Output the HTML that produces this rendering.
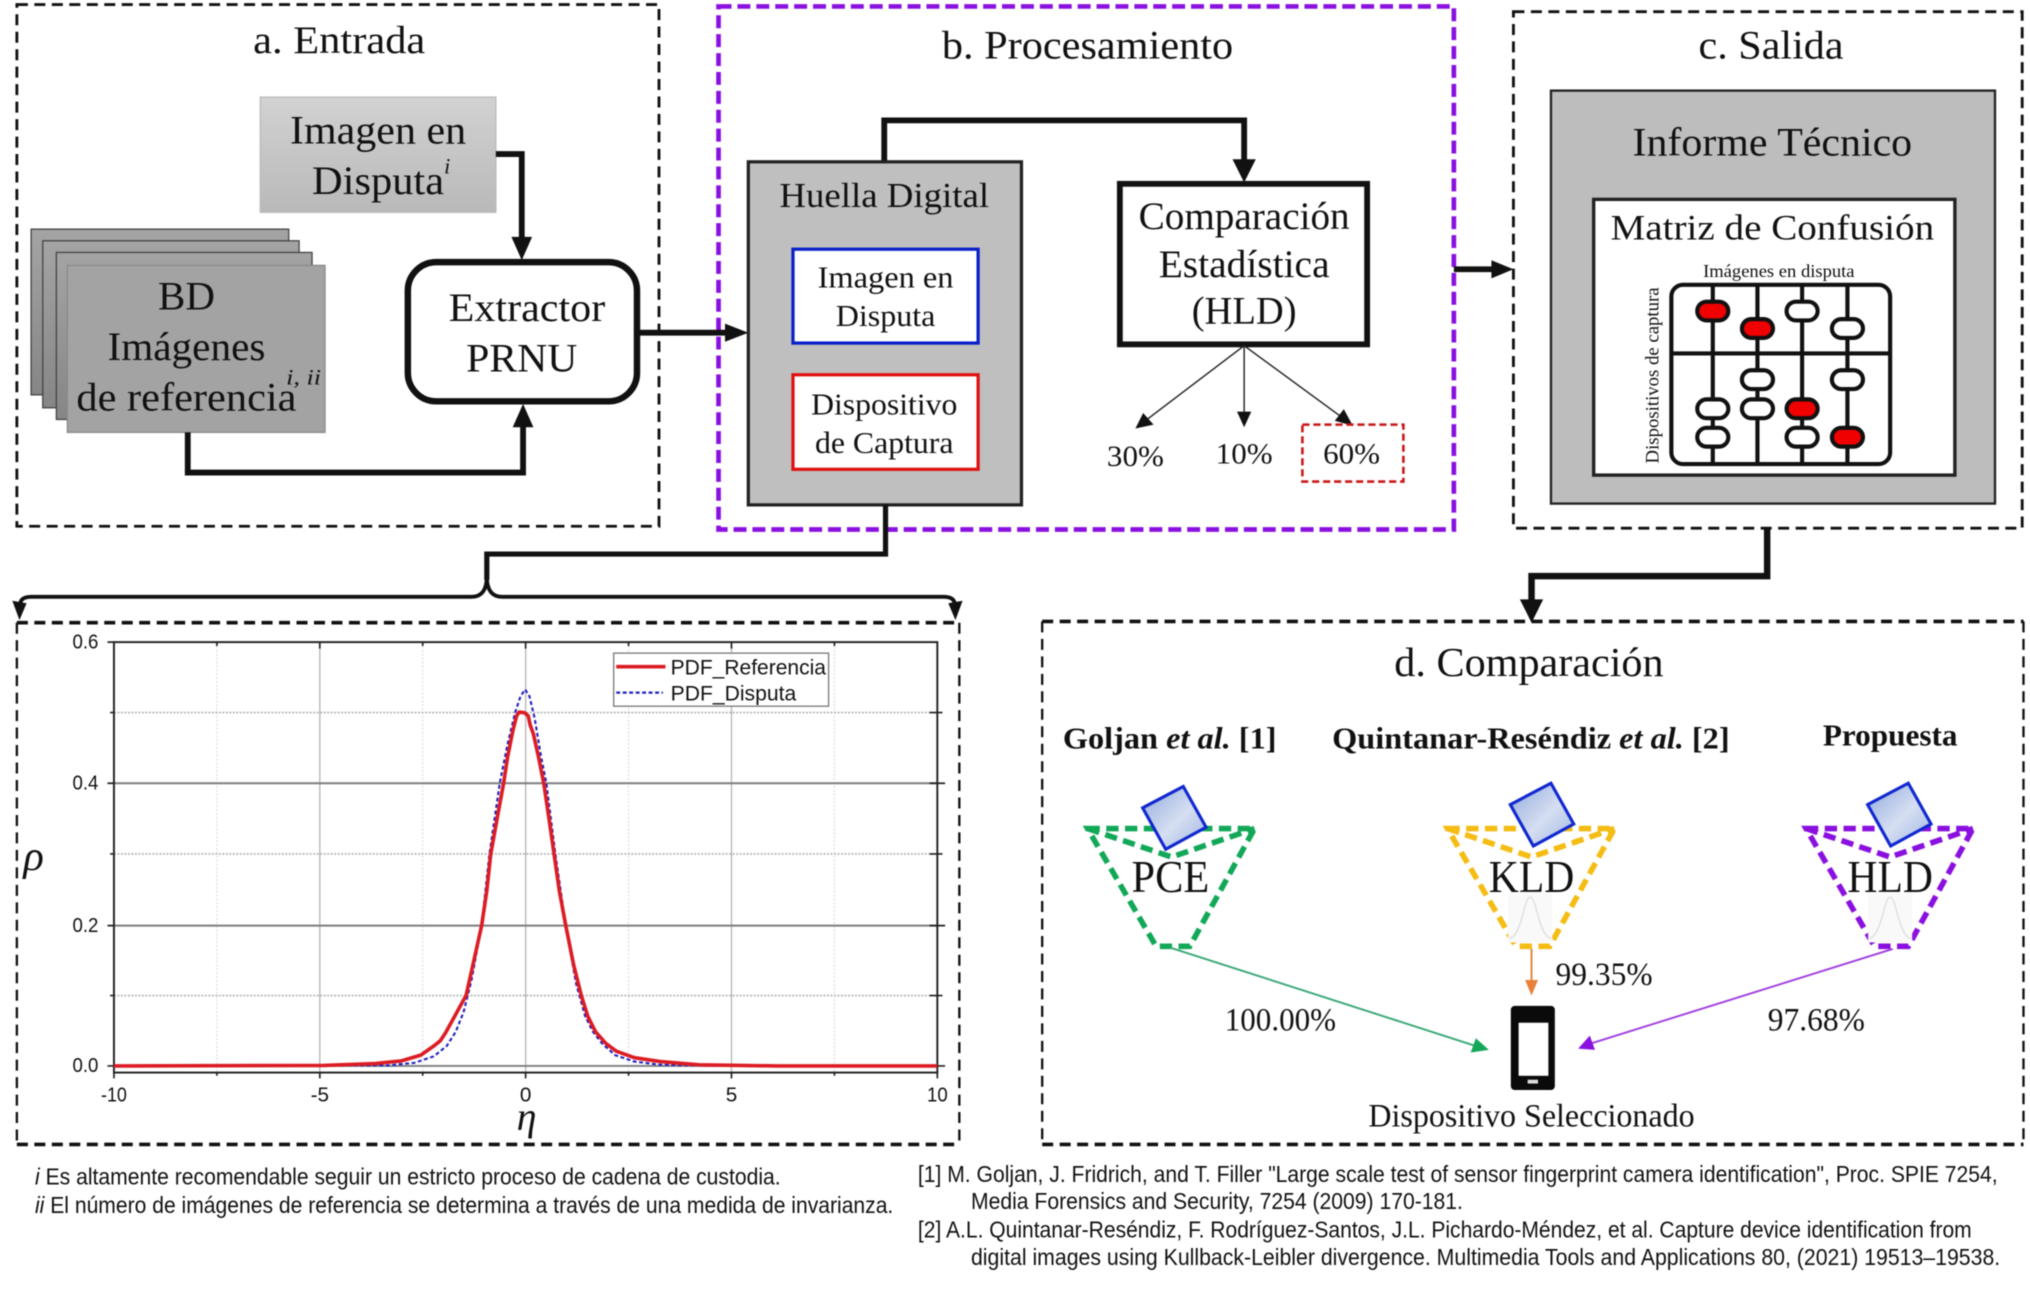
<!DOCTYPE html>
<html><head><meta charset="utf-8"><style>
html,body{margin:0;padding:0;background:#fff;width:2030px;height:1292px;overflow:hidden}
svg{display:block;filter:blur(.4px)}
text{font-family:"Liberation Serif",serif;fill:#111}
.s{font-family:"Liberation Sans",sans-serif}
.m{text-anchor:middle}
</style></head><body>
<svg width="2030" height="1292" viewBox="0 0 1568 998" xmlns="http://www.w3.org/2000/svg">
<defs>
<linearGradient id="g1" x1="0" y1="0" x2="0" y2="1"><stop offset="0" stop-color="#d2d2d2"/><stop offset="1" stop-color="#b9b9b9"/></linearGradient>
<linearGradient id="g2" x1="0" y1="0" x2="0" y2="1"><stop offset="0" stop-color="#a4a4a4"/><stop offset="1" stop-color="#868686"/></linearGradient>
<linearGradient id="g3" x1="0" y1="0" x2="1" y2="1"><stop offset="0" stop-color="#8fa8dc"/><stop offset=".55" stop-color="#d6dff2"/><stop offset="1" stop-color="#9db3e0"/></linearGradient>
</defs>
<rect width="1568" height="998" fill="#fff"/>

<!-- Panel outlines -->
<g fill="none" stroke="#111" stroke-width="2.200" stroke-dasharray="8.500 5">
<rect x="13" y="3.500" width="496" height="403"/>
<rect x="1169" y="9" width="393" height="399"/>
</g>
<g fill="none" stroke="#111" stroke-dasharray="8.500 5">
<path d="M805 480H1563M805 884H1563M13 481H741M13 884H741" stroke-width="2.800"/>
<path d="M805 480V884M1563 480V884M13 481V884M741 481V884" stroke-width="1.800"/>
</g>
<rect x="555" y="5" width="568" height="404" fill="none" stroke="#8a10e0" stroke-width="3.600" stroke-dasharray="10 4.600"/>

<!-- a. Entrada -->
<text x="262" y="41" class="m" font-size="30" textLength="133" lengthAdjust="spacingAndGlyphs">a. Entrada</text>
<rect x="201" y="75" width="182" height="89" fill="url(#g1)" stroke="#bbb"/>
<text x="292" y="111" class="m" font-size="31" textLength="136" lengthAdjust="spacingAndGlyphs">Imagen en</text>
<text x="241" y="150" font-size="31" textLength="102" lengthAdjust="spacingAndGlyphs">Disputa</text>
<text x="343" y="134" font-size="17" font-style="italic">i</text>
<rect x="24" y="177" width="199" height="128" fill="url(#g2)" stroke="#444" stroke-width="1"/>
<rect x="33" y="186" width="198" height="129" fill="url(#g2)" stroke="#444" stroke-width="1"/>
<rect x="43.500" y="195" width="197.500" height="129" fill="url(#g2)" stroke="#444" stroke-width="1"/>
<rect x="52" y="205" width="199" height="129" fill="#a3a3a3" stroke="#8a8a8a" stroke-width="1"/>
<text x="144" y="239" class="m" font-size="31" textLength="44" lengthAdjust="spacingAndGlyphs">BD</text>
<text x="144" y="278" class="m" font-size="31" textLength="122" lengthAdjust="spacingAndGlyphs">Imágenes</text>
<text x="144" y="317" class="m" font-size="31" textLength="170" lengthAdjust="spacingAndGlyphs">de referencia</text>
<text x="221" y="297" font-size="17" font-style="italic" textLength="27" lengthAdjust="spacingAndGlyphs">i, ii</text>
<rect x="315" y="202.500" width="177" height="107.500" rx="22" fill="#fff" stroke="#111" stroke-width="5"/>
<text x="407" y="248" class="m" font-size="31" textLength="121" lengthAdjust="spacingAndGlyphs">Extractor</text>
<text x="403" y="287" class="m" font-size="31" textLength="86" lengthAdjust="spacingAndGlyphs">PRNU</text>
<g fill="none" stroke="#111" stroke-width="4.500">
<path d="M383 119H403V186"/>
<path d="M145 334V365H404V326"/>
<path d="M494 257H566"/>
</g>
<g fill="#111">
<polygon points="395,183 411,183 403,201"/>
<polygon points="396,330 412,330 404,312"/>
<polygon points="560,250 560,264 578,257"/>
</g>

<!-- b. Procesamiento -->
<text x="840" y="45" class="m" font-size="31" textLength="225" lengthAdjust="spacingAndGlyphs">b. Procesamiento</text>
<path d="M683 125V93H961V125" fill="none" stroke="#111" stroke-width="4.500"/>
<polygon points="952,123 970,123 961,141" fill="#111"/>
<rect x="578" y="125" width="211" height="265" fill="#bfbfbf" stroke="#222" stroke-width="2.500"/>
<text x="683" y="160" class="m" font-size="27" textLength="162" lengthAdjust="spacingAndGlyphs">Huella Digital</text>
<rect x="612.500" y="192.500" width="143" height="72.500" fill="#fff" stroke="#0a20c8" stroke-width="2.500"/>
<text x="684" y="222" class="m" font-size="24" textLength="105" lengthAdjust="spacingAndGlyphs">Imagen en</text>
<text x="684" y="252" class="m" font-size="24" textLength="77" lengthAdjust="spacingAndGlyphs">Disputa</text>
<rect x="612.500" y="289.500" width="143" height="73" fill="#fff" stroke="#e01010" stroke-width="2.500"/>
<text x="683" y="320" class="m" font-size="24" textLength="113" lengthAdjust="spacingAndGlyphs">Dispositivo</text>
<text x="683" y="350" class="m" font-size="24" textLength="107" lengthAdjust="spacingAndGlyphs">de Captura</text>
<rect x="865" y="142" width="191" height="124" fill="#fff" stroke="#111" stroke-width="4.500"/>
<text x="961" y="177" class="m" font-size="30" textLength="163" lengthAdjust="spacingAndGlyphs">Comparación</text>
<text x="961" y="214" class="m" font-size="30" textLength="132" lengthAdjust="spacingAndGlyphs">Estadística</text>
<text x="961" y="250" class="m" font-size="30" textLength="81" lengthAdjust="spacingAndGlyphs">(HLD)</text>
<g stroke="#222" stroke-width="1.100" fill="none">
<path d="M961 267L886 324"/><path d="M961 267V320"/><path d="M961 267L1036 322"/>
</g>
<g fill="#111">
<polygon points="877,331 883,319 891,328"/>
<polygon points="955.500,318 966.500,318 961,330"/>
<polygon points="1045,329 1031,325 1038,316"/>
</g>
<rect x="1006" y="328" width="78" height="44" fill="none" stroke="#c81818" stroke-width="2" stroke-dasharray="5.500 3"/>
<text x="877" y="360" class="m" font-size="23" textLength="44" lengthAdjust="spacingAndGlyphs">30%</text>
<text x="961" y="358" class="m" font-size="23" textLength="44" lengthAdjust="spacingAndGlyphs">10%</text>
<text x="1044" y="358" class="m" font-size="23" textLength="44" lengthAdjust="spacingAndGlyphs">60%</text>
<path d="M1123 208H1156" stroke="#111" stroke-width="4.500"/>
<polygon points="1152,201 1152,215 1169,208" fill="#111"/>

<!-- c. Salida -->
<text x="1368" y="45" class="m" font-size="31" textLength="112" lengthAdjust="spacingAndGlyphs">c. Salida</text>
<rect x="1198" y="70" width="343" height="319" fill="#bdbdbd" stroke="#222" stroke-width="1.800"/>
<text x="1369" y="120" class="m" font-size="31" textLength="216" lengthAdjust="spacingAndGlyphs">Informe Técnico</text>
<rect x="1231" y="154" width="279" height="213" fill="#fff" stroke="#222" stroke-width="2.600"/>
<text x="1369" y="185" class="m" font-size="28" textLength="250" lengthAdjust="spacingAndGlyphs">Matriz de Confusión</text>
<text x="1374" y="214" class="m" font-size="13.500" textLength="117" lengthAdjust="spacingAndGlyphs">Imágenes en disputa</text>
<text transform="translate(1281,290) rotate(-90)" class="m" font-size="14.500" fill="#333" textLength="136" lengthAdjust="spacingAndGlyphs">Dispositivos de captura</text>
<g fill="none" stroke="#111" stroke-width="3.200">
<rect x="1291" y="220" width="169" height="138.500" rx="9"/>
<path d="M1291 273H1460M1323 220V358M1357.500 220V358M1392 220V358M1427 220V358"/>
</g>
<g stroke="#111" stroke-width="3.200">
<rect x="1311" y="233" width="24" height="14.500" rx="7.250" fill="#f00000"/>
<rect x="1311" y="308.500" width="24" height="14.500" rx="7.250" fill="#fff"/>
<rect x="1311" y="330.500" width="24" height="14.500" rx="7.250" fill="#fff"/>
<rect x="1345.500" y="246.500" width="24" height="14.500" rx="7.250" fill="#f00000"/>
<rect x="1345.500" y="286" width="24" height="14.500" rx="7.250" fill="#fff"/>
<rect x="1345.500" y="308.500" width="24" height="14.500" rx="7.250" fill="#fff"/>
<rect x="1380" y="233" width="24" height="14.500" rx="7.250" fill="#fff"/>
<rect x="1380" y="308.500" width="24" height="14.500" rx="7.250" fill="#f00000"/>
<rect x="1380" y="330.500" width="24" height="14.500" rx="7.250" fill="#fff"/>
<rect x="1415" y="246.500" width="24" height="14.500" rx="7.250" fill="#fff"/>
<rect x="1415" y="286" width="24" height="14.500" rx="7.250" fill="#fff"/>
<rect x="1415" y="330.500" width="24" height="14.500" rx="7.250" fill="#f00000"/>
</g>
<path d="M1365 409V445H1183V466" fill="none" stroke="#111" stroke-width="5"/>
<polygon points="1174,463 1192,463 1183,481" fill="#111"/>

<!-- Bracket -->
<path d="M684 390V428H376V448" fill="none" stroke="#111" stroke-width="4"/>
<path d="M376 445C376 456 372 461 364 461H24C17 461 15 464 15 470M376 445C376 456 380 461 388 461H729C736 461 738 464 738 470" fill="none" stroke="#111" stroke-width="3"/>
<polygon points="9.500,464 20.500,466 15,479" fill="#111"/>
<polygon points="732.500,466 743.500,464 738,479" fill="#111"/>

<!-- Plot -->
<g stroke="#d8d8d8" stroke-width=".8" stroke-dasharray="1.500 1.500">
<path d="M167.500 496V828M326.500 496V828M485.500 496V828M644.500 496V828"/>
</g>
<g stroke="#b4b4b4" stroke-width="1">
<path d="M247 496V828M406 496V828M565 496V828"/>
</g>
<g stroke="#b0b0b0" stroke-width="1.200" stroke-dasharray="1.500 1.200">
<path d="M88 550.400H724M88 659.600H724M88 769H724"/>
</g>
<g stroke="#7d7d7d" stroke-width="1.500">
<path d="M88 605H724M88 715H724M88 823.400H724"/>
</g>
<rect x="88" y="496" width="636" height="332.500" fill="none" stroke="#222" stroke-width="1.500"/>
<g stroke="#222" stroke-width="1.300">
<path d="M88 828V833M247 828V833M406 828V833M565 828V833M724 828V833M247 496V501M406 496V501M565 496V501M167.500 828V831M326.500 828V831M485.500 828V831M644.500 828V831M167.500 496V499M326.500 496V499M485.500 496V499M644.500 496V499"/>
<path d="M718 550.400H728M718 605H730M718 659.600H728M718 715H730M718 769H728M718 823.400H730M83 605H88M83 715H88M83 823.400H88M83 496H88M85 550.400H88M85 659.600H88M85 769H88"/>
</g>
<g font-size="16">
<text class="s" x="56" y="501" font-size="16" textLength="20" lengthAdjust="spacingAndGlyphs">0.6</text>
<text class="s" x="56" y="610" font-size="16" textLength="20" lengthAdjust="spacingAndGlyphs">0.4</text>
<text class="s" x="56" y="720" font-size="16" textLength="20" lengthAdjust="spacingAndGlyphs">0.2</text>
<text class="s" x="56" y="828" font-size="16" textLength="20" lengthAdjust="spacingAndGlyphs">0.0</text>
<text class="s m" x="88" y="851" font-size="16" textLength="20" lengthAdjust="spacingAndGlyphs">-10</text>
<text class="s m" x="247" y="851" font-size="16">-5</text>
<text class="s m" x="406" y="851" font-size="16">0</text>
<text class="s m" x="565" y="851" font-size="16">5</text>
<text class="s m" x="724" y="851" font-size="16" textLength="16" lengthAdjust="spacingAndGlyphs">10</text>
</g>
<polyline fill="none" stroke="#2020c0" stroke-width="1.600" stroke-dasharray="3 2" points="88,823.400 300,823 320,821 335,816 345,808 352,797 358,782 364,758 372,715 378,660 386,605 392,575 398,550 402,538 405.600,532.500 409,538 413,555 418,585 422,605 429,660 437,715 445,760 452,785 458,797 465,806 475,815 490,820 510,822.500 560,823.400 724,823.400"/>
<polyline fill="none" stroke="#dc1c24" stroke-width="2.800" stroke-linejoin="round" points="88,823.400 250,823 290,821.500 310,819.500 325,815 335,808 340,804 344,798 349,789 355,778 360,769 366,742 372,715 376,688 379,660 384,632 389,605 392,585 396,565 399,553 401,550 405,550.500 408,553 409.500,560 412,567 416,585 420,605 424,632 428,660 432,688 437,715 443,745 449,769 454,785 460,797 468,806 476,812 490,817 510,820 540,822.500 600,823.400 724,823.400"/>
<rect x="474" y="504.500" width="166" height="41" fill="#fff" stroke="#777" stroke-width="1"/>
<path d="M476 515H514" stroke="#dc1c24" stroke-width="2.800"/>
<path d="M476 535H512" stroke="#2020c0" stroke-width="1.800" stroke-dasharray="3 2"/>
<text class="s" x="518" y="521" font-size="16.500" textLength="120" lengthAdjust="spacingAndGlyphs">PDF_Referencia</text>
<text class="s" x="518" y="541" font-size="16.500" textLength="97" lengthAdjust="spacingAndGlyphs">PDF_Disputa</text>
<text x="18" y="672" font-size="33" font-style="italic">ρ</text>
<text x="399" y="873" font-size="31" font-style="italic">η</text>

<!-- d. Comparación -->
<text x="1181" y="522" class="m" font-size="32" textLength="208" lengthAdjust="spacingAndGlyphs">d. Comparación</text>
<text x="821" y="578" font-size="24" font-weight="bold" textLength="165" lengthAdjust="spacingAndGlyphs">Goljan <tspan font-style="italic">et al.</tspan> [1]</text>
<text x="1029" y="578" font-size="24" font-weight="bold" textLength="307" lengthAdjust="spacingAndGlyphs">Quintanar-Reséndiz <tspan font-style="italic">et al.</tspan> [2]</text>
<text x="1408" y="576" font-size="24" font-weight="bold" textLength="104" lengthAdjust="spacingAndGlyphs">Propuesta</text>

<g fill="none" stroke-width="4.300" stroke-dasharray="9.500 5">
<path d="M840 640H969L919 731H893Z M840 640L905 662L969 640" stroke="#12a858"/>
<path d="M1118 640H1247L1197 731H1171Z M1118 640L1183 662L1247 640" stroke="#f5bc14"/>
<path d="M1395 640H1524L1474 731H1448Z M1395 640L1460 662L1524 640" stroke="#8a10e0"/>
</g>
<g stroke="#1028d0" stroke-width="2.400" fill="url(#g3)">
<polygon points="914,607.500 931.600,639 900.400,656 882.600,624"/>
<polygon points="1198,605 1215.600,636.500 1184.400,653.500 1166.600,621.500"/>
<polygon points="1474,605 1491.600,636.500 1460.400,653.500 1442.600,621.500"/>
</g>
<g>
<rect x="1165" y="690" width="34" height="38" fill="#f9f9f9"/>
<rect x="1443" y="690" width="34" height="38" fill="#f9f9f9"/>
<path d="M1166 725C1176 722 1177 693 1182 693C1187 693 1188 722 1198 725" fill="none" stroke="#ddd"/>
<path d="M1444 725C1454 722 1455 693 1460 693C1465 693 1466 722 1476 725" fill="none" stroke="#ddd"/>
</g>
<text x="904" y="689" class="m" font-size="35" textLength="60" lengthAdjust="spacingAndGlyphs">PCE</text>
<text x="1183" y="689" class="m" font-size="35" textLength="66" lengthAdjust="spacingAndGlyphs">KLD</text>
<text x="1460" y="689" class="m" font-size="35" textLength="66" lengthAdjust="spacingAndGlyphs">HLD</text>
<path d="M904 732L1140 808" stroke="#3aa878" stroke-width="1.500"/>
<polygon points="1150,811 1136,813 1140,802" fill="#12a858"/>
<path d="M1183 733V758" stroke="#e8803a" stroke-width="1.500"/>
<polygon points="1178,757 1188,757 1183,769" fill="#e8803a"/>
<path d="M1462 733L1229 806" stroke="#a040e0" stroke-width="1.500"/>
<polygon points="1219,810 1228,800 1232,811" fill="#8a10e0"/>
<text x="989" y="796" class="m" font-size="25" textLength="86" lengthAdjust="spacingAndGlyphs">100.00%</text>
<text x="1239" y="761" class="m" font-size="25" textLength="75" lengthAdjust="spacingAndGlyphs">99.35%</text>
<text x="1403" y="796" class="m" font-size="25" textLength="75" lengthAdjust="spacingAndGlyphs">97.68%</text>
<rect x="1167" y="777" width="34" height="65" rx="3" fill="#0a0a0a"/>
<rect x="1173" y="790" width="23" height="41" fill="#fff"/>
<rect x="1180" y="834" width="8" height="3" fill="#ddd"/>
<text x="1183" y="870" class="m" font-size="25" textLength="252" lengthAdjust="spacingAndGlyphs">Dispositivo Seleccionado</text>

<!-- Footnotes -->
<g>
<text class="s" x="27" y="915" font-size="18" textLength="576" lengthAdjust="spacingAndGlyphs"><tspan font-style="italic">i</tspan> Es altamente recomendable seguir un estricto proceso de cadena de custodia.</text>
<text class="s" x="27" y="937" font-size="18" textLength="663" lengthAdjust="spacingAndGlyphs"><tspan font-style="italic">ii</tspan> El número de imágenes de referencia se determina a través de una medida de invarianza.</text>
<text class="s" x="709" y="913" font-size="18" textLength="834" lengthAdjust="spacingAndGlyphs">[1] M. Goljan, J. Fridrich, and T. Filler "Large scale test of sensor fingerprint camera identification", Proc. SPIE 7254,</text>
<text class="s" x="750" y="934" font-size="18" textLength="380" lengthAdjust="spacingAndGlyphs">Media Forensics and Security, 7254 (2009) 170-181.</text>
<text class="s" x="709" y="956" font-size="18" textLength="814" lengthAdjust="spacingAndGlyphs">[2] A.L. Quintanar-Reséndiz, F. Rodríguez-Santos, J.L. Pichardo-Méndez, et al. Capture device identification from</text>
<text class="s" x="750" y="977" font-size="18" textLength="795" lengthAdjust="spacingAndGlyphs">digital images using Kullback-Leibler divergence. Multimedia Tools and Applications 80, (2021) 19513–19538.</text>
</g>
</svg>
</body></html>
